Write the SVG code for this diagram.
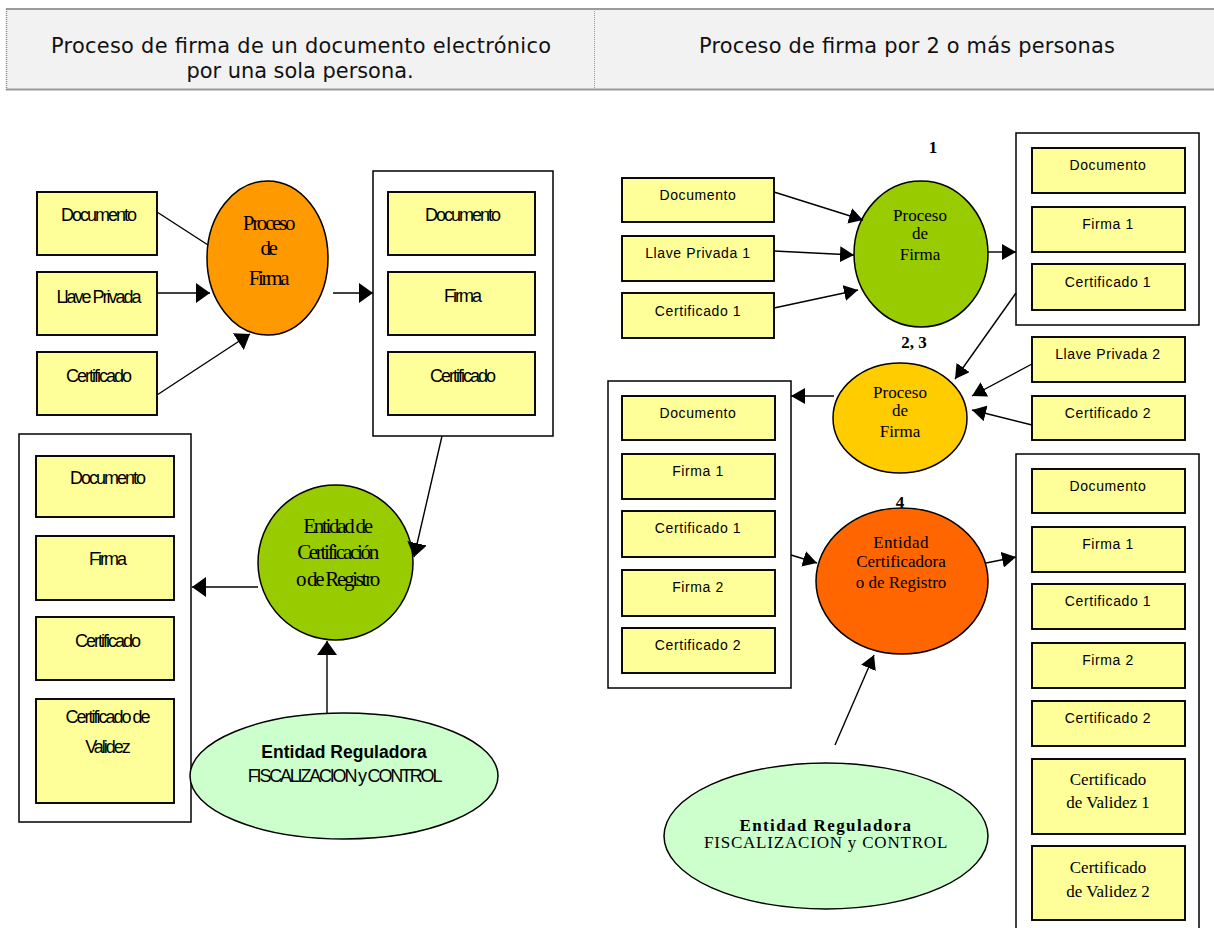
<svg xmlns="http://www.w3.org/2000/svg" width="1214" height="928" viewBox="0 0 1214 928">
<defs>
<style>
.box{fill:#ffff99;stroke:#000;stroke-width:1.9}
.out{fill:#fff;stroke:#000;stroke-width:1.5}
.sh{stroke:#000;stroke-width:1.5}
.ln{stroke:#000;stroke-width:1.4;fill:none}
.tl{font-family:"Liberation Sans",Arial,sans-serif;font-size:18px;letter-spacing:-2px;text-anchor:middle;fill:#000}
.tr{font-family:"Liberation Sans",Arial,sans-serif;font-size:14px;letter-spacing:0.6px;text-anchor:middle;fill:#000}
.sl{font-family:"Liberation Serif","Times New Roman",serif;font-size:21px;letter-spacing:-2.3px;text-anchor:middle;fill:#000}
.sr{font-family:"Liberation Serif","Times New Roman",serif;font-size:17px;text-anchor:middle;fill:#000}
.num{font-family:"Liberation Serif","Times New Roman",serif;font-size:17px;font-weight:bold;text-anchor:middle;fill:#000}
.hd{font-family:"DejaVu Sans",Tahoma,sans-serif;font-size:20.9px;text-anchor:middle;fill:#111}
</style>
<marker id="ahL" markerUnits="userSpaceOnUse" markerWidth="15" markerHeight="20" refX="14" refY="10" orient="auto">
<path d="M0,0 L14,10 L0,20 z" fill="#000"/>
</marker>
<marker id="ahR" markerUnits="userSpaceOnUse" markerWidth="15" markerHeight="16" refX="14" refY="8" orient="auto">
<path d="M0,0 L14,8 L0,16 z" fill="#000"/>
</marker>
</defs>
<rect width="1214" height="928" fill="#fff"/>

<g id="header">
<rect x="6" y="9" width="1208" height="81" fill="#f2f2f2"/>
<line x1="6" y1="9" x2="1214" y2="9" stroke="#9a9a9a" stroke-width="2"/>
<line x1="6" y1="89.5" x2="1214" y2="89.5" stroke="#9a9a9a" stroke-width="2"/>
<line x1="6.5" y1="9" x2="6.5" y2="90" stroke="#888" stroke-width="1.5" stroke-dasharray="1,1"/>
<line x1="594.5" y1="9" x2="594.5" y2="90" stroke="#999" stroke-width="1" stroke-dasharray="1,1"/>
<text class="hd" x="301" y="53" textLength="500" lengthAdjust="spacing">Proceso de firma de un documento electrónico</text>
<text class="hd" x="300" y="78">por una sola persona.</text>
<text class="hd" x="907" y="53" textLength="416" lengthAdjust="spacing">Proceso de firma por 2 o más personas</text>
</g>

<!-- LEFT DIAGRAM -->
<g id="L_documento"><rect class="box" x="37" y="192" width="120" height="63"/><text class="tl" x="98" y="221">Documento</text></g>
<g id="L_llave"><rect class="box" x="37" y="272" width="120" height="63"/><text class="tl" x="98" y="303">Llave Privada</text></g>
<g id="L_certificado"><rect class="box" x="37" y="352" width="120" height="63"/><text class="tl" x="98" y="382">Certificado</text></g>
<g id="L_proceso"><ellipse class="sh" cx="267.5" cy="258" rx="60.5" ry="77" fill="#ff9900"/>
<text class="sl" x="268" y="230">Proceso</text><text class="sl" x="268" y="255">de</text><text class="sl" x="268" y="285">Firma</text></g>
<g id="L_salida1"><rect class="out" x="373" y="171" width="180" height="265"/>
<rect class="box" x="388" y="192" width="147" height="63"/><text class="tl" x="462" y="221">Documento</text>
<rect class="box" x="388" y="272" width="147" height="63"/><text class="tl" x="462" y="302">Firma</text>
<rect class="box" x="388" y="352" width="147" height="63"/><text class="tl" x="462" y="382">Certificado</text></g>
<g id="L_salida2"><rect class="out" x="19" y="434" width="172" height="388"/>
<rect class="box" x="36" y="456" width="138" height="61"/><text class="tl" x="107" y="484">Documento</text>
<rect class="box" x="36" y="536" width="138" height="64"/><text class="tl" x="107" y="565">Firma</text>
<rect class="box" x="36" y="617" width="138" height="63"/><text class="tl" x="107" y="647">Certificado</text>
<rect class="box" x="36" y="699" width="138" height="104"/><text class="tl" x="107" y="723">Certificado de</text><text class="tl" x="107" y="753">Validez</text></g>
<g id="L_entidad"><circle class="sh" cx="335.5" cy="562.5" r="77.5" fill="#99cc00"/>
<text class="sl" x="337" y="533">Entidad de</text><text class="sl" x="337" y="559">Certificación</text><text class="sl" x="337" y="586">o de Registro</text></g>
<g id="L_reguladora"><ellipse class="sh" cx="344" cy="776" rx="154" ry="63" fill="#ccffcc"/>
<text x="344" y="758" text-anchor="middle" font-family="Liberation Sans, Arial, sans-serif" font-size="17.5" font-weight="bold">Entidad Reguladora</text>
<text class="tl" x="344" y="782" style="letter-spacing:-2.2px">FISCALIZACION y CONTROL</text></g>

<!-- RIGHT DIAGRAM -->
<g id="R_n1"><text class="num" x="933" y="153">1</text></g>
<g id="R_documento"><rect class="box" x="622" y="178" width="152" height="44"/><text class="tr" x="698" y="200">Documento</text></g>
<g id="R_llave1"><rect class="box" x="622" y="236" width="152" height="45"/><text class="tr" x="698" y="258">Llave Privada 1</text></g>
<g id="R_cert1"><rect class="box" x="622" y="293" width="152" height="45"/><text class="tr" x="698" y="316">Certificado 1</text></g>
<g id="R_proceso1"><ellipse class="sh" cx="921" cy="254" rx="67" ry="73" fill="#99cc00"/>
<text class="sr" x="920" y="221">Proceso</text><text class="sr" x="920" y="239">de</text><text class="sr" x="920" y="260">Firma</text></g>
<g id="R_salida1"><rect class="out" x="1016" y="133" width="183" height="192"/>
<rect class="box" x="1032" y="148" width="153" height="45"/><text class="tr" x="1108" y="170">Documento</text>
<rect class="box" x="1032" y="207" width="153" height="45"/><text class="tr" x="1108" y="229">Firma 1</text>
<rect class="box" x="1032" y="264" width="153" height="46"/><text class="tr" x="1108" y="287">Certificado 1</text></g>
<g id="R_n23"><text class="num" x="914" y="348">2, 3</text></g>
<g id="R_llave2"><rect class="box" x="1032" y="337" width="153" height="45"/><text class="tr" x="1108" y="359">Llave Privada 2</text></g>
<g id="R_cert2"><rect class="box" x="1032" y="396" width="153" height="44"/><text class="tr" x="1108" y="418">Certificado 2</text></g>
<g id="R_proceso2"><ellipse class="sh" cx="900" cy="418" rx="67" ry="55" fill="#ffcc00"/>
<text class="sr" x="900" y="398">Proceso</text><text class="sr" x="900" y="416">de</text><text class="sr" x="900" y="437">Firma</text></g>
<g id="R_salida2"><rect class="out" x="608" y="381" width="183" height="307"/>
<rect class="box" x="622" y="396" width="153" height="44"/><text class="tr" x="698" y="418">Documento</text>
<rect class="box" x="622" y="454" width="153" height="45"/><text class="tr" x="698" y="476">Firma 1</text>
<rect class="box" x="622" y="511" width="153" height="46"/><text class="tr" x="698" y="533">Certificado 1</text>
<rect class="box" x="622" y="570" width="153" height="46"/><text class="tr" x="698" y="592">Firma 2</text>
<rect class="box" x="622" y="628" width="153" height="45"/><text class="tr" x="698" y="650">Certificado 2</text></g>
<g id="R_n4"><text class="num" x="900" y="508">4</text></g>
<g id="R_entidad"><ellipse class="sh" cx="902" cy="581" rx="86" ry="73" fill="#ff6600"/>
<text class="sr" x="901" y="548" style="letter-spacing:0.4px">Entidad</text><text class="sr" x="901" y="567">Certificadora</text><text class="sr" x="901" y="588">o de Registro</text></g>
<g id="R_salida3"><rect class="out" x="1016" y="454" width="183" height="490"/>
<rect class="box" x="1032" y="469" width="153" height="44"/><text class="tr" x="1108" y="491">Documento</text>
<rect class="box" x="1032" y="527" width="153" height="45"/><text class="tr" x="1108" y="549">Firma 1</text>
<rect class="box" x="1032" y="584" width="153" height="45"/><text class="tr" x="1108" y="606">Certificado 1</text>
<rect class="box" x="1032" y="643" width="153" height="45"/><text class="tr" x="1108" y="665">Firma 2</text>
<rect class="box" x="1032" y="701" width="153" height="45"/><text class="tr" x="1108" y="723">Certificado 2</text>
<rect class="box" x="1032" y="759" width="153" height="75"/><text class="sr" x="1108" y="785" font-size="20">Certificado</text><text class="sr" x="1108" y="808" font-size="20">de Validez 1</text>
<rect class="box" x="1032" y="846" width="153" height="74"/><text class="sr" x="1108" y="873" font-size="20">Certificado</text><text class="sr" x="1108" y="897" font-size="20">de Validez 2</text></g>
<g id="R_reguladora"><ellipse class="sh" cx="826" cy="836" rx="162" ry="73" fill="#ccffcc"/>
<text class="sr" x="826" y="831" font-size="18" font-weight="bold" style="letter-spacing:1.4px">Entidad Reguladora</text>
<text class="sr" x="826" y="848" font-size="12.5" style="letter-spacing:0.8px">FISCALIZACION y CONTROL</text></g>

<g id="connectors">
<line class="ln" x1="157" y1="212" x2="208" y2="245"/>
<line class="ln" x1="157" y1="293" x2="210" y2="293" marker-end="url(#ahL)"/>
<line class="ln" x1="157" y1="395" x2="250" y2="334" marker-end="url(#ahL)"/>
<line class="ln" x1="333" y1="293" x2="373" y2="293" marker-end="url(#ahL)"/>
<line class="ln" x1="442" y1="436" x2="414" y2="557" marker-end="url(#ahL)"/>
<line class="ln" x1="258" y1="587" x2="192" y2="587" marker-end="url(#ahL)"/>
<line class="ln" x1="327" y1="713" x2="327" y2="641" marker-end="url(#ahL)"/>
<line class="ln" x1="774" y1="192" x2="863" y2="220" marker-end="url(#ahR)"/>
<line class="ln" x1="774" y1="251" x2="854" y2="255" marker-end="url(#ahR)"/>
<line class="ln" x1="774" y1="308" x2="858" y2="290" marker-end="url(#ahR)"/>
<line class="ln" x1="988" y1="252" x2="1016" y2="252" marker-end="url(#ahR)"/>
<line class="ln" x1="1016" y1="293" x2="955" y2="379" marker-end="url(#ahR)"/>
<line class="ln" x1="1032" y1="364" x2="972" y2="396" marker-end="url(#ahR)"/>
<line class="ln" x1="1032" y1="425" x2="972" y2="410" marker-end="url(#ahR)"/>
<line class="ln" x1="834" y1="396" x2="791" y2="396" marker-end="url(#ahR)"/>
<line class="ln" x1="791" y1="555" x2="817" y2="563" marker-end="url(#ahR)"/>
<line class="ln" x1="986" y1="563" x2="1016" y2="557" marker-end="url(#ahR)"/>
<line class="ln" x1="835" y1="745" x2="874" y2="655" marker-end="url(#ahR)"/>
</g>
</svg>
